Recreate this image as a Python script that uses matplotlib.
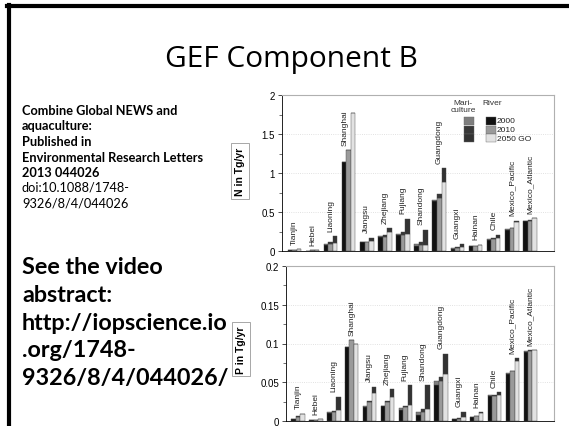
import matplotlib
matplotlib.use('Agg')
import matplotlib.pyplot as plt
import numpy as np
from matplotlib.patches import Rectangle

# 지역 및 값 (Tg/yr) - 그림에서 읽은 추정치
regions = ['Tianjin', 'Hebei', 'Liaoning', 'Shanghai', 'Jiangsu', 'Zhejiang', 'Fujiang',
           'Shandong', 'Guangdong', 'Guangxi', 'Hainan', 'Chile', 'Mexico_Pacific', 'Mexico_Atlantic']
years = ['2000', '2010', '2050 GO']

n_river_2000 = [0.01, 0.005, 0.08, 1.14, 0.11, 0.18, 0.20, 0.07, 0.64, 0.03, 0.06, 0.14, 0.27, 0.38]
n_mari_2000 = [0.0, 0.0, 0.01, 0.0, 0.01, 0.01, 0.02, 0.02, 0.02, 0.01, 0.0, 0.01, 0.01, 0.01]
n_river_2010 = [0.015, 0.008, 0.09, 1.29, 0.11, 0.18, 0.21, 0.08, 0.68, 0.04, 0.07, 0.15, 0.29, 0.39]
n_mari_2010 = [0.0, 0.0, 0.02, 0.0, 0.01, 0.02, 0.04, 0.04, 0.05, 0.01, 0.0, 0.02, 0.01, 0.01]
n_river_2050 = [0.02, 0.01, 0.10, 1.77, 0.13, 0.24, 0.22, 0.08, 0.89, 0.05, 0.08, 0.17, 0.37, 0.42]
n_mari_2050 = [0.0, 0.0, 0.09, 0.0, 0.04, 0.05, 0.19, 0.19, 0.17, 0.04, 0.0, 0.04, 0.02, 0.0]

p_river_2000 = [0.003, 0.001, 0.010, 0.096, 0.018, 0.019, 0.014, 0.008, 0.047, 0.002, 0.005, 0.032, 0.061, 0.089]
p_mari_2000 = [0.0, 0.0, 0.001, 0.0, 0.001, 0.001, 0.003, 0.004, 0.005, 0.0, 0.0, 0.001, 0.001, 0.001]
p_river_2010 = [0.005, 0.001, 0.012, 0.104, 0.024, 0.024, 0.018, 0.012, 0.052, 0.003, 0.006, 0.032, 0.064, 0.090]
p_mari_2010 = [0.001, 0.0, 0.001, 0.0, 0.002, 0.002, 0.002, 0.003, 0.005, 0.001, 0.0, 0.002, 0.001, 0.001]
p_river_2050 = [0.009, 0.002, 0.014, 0.099, 0.036, 0.031, 0.021, 0.015, 0.061, 0.005, 0.010, 0.034, 0.077, 0.091]
p_mari_2050 = [0.0, 0.0, 0.017, 0.0, 0.008, 0.010, 0.025, 0.031, 0.026, 0.007, 0.001, 0.003, 0.004, 0.0]

river_colors = ['#111111', '#9a9a9a', '#e2e2e2']
mari_colors = ['#7e7e7e', '#383838', '#333333']

plt.rcParams['font.family'] = ['Liberation Sans', 'DejaVu Sans']

fig = plt.figure(figsize=(5.69, 4.27), dpi=100)
W, H = 569, 427


def px_axes(l, t, r, b):
    return fig.add_axes([l / W, 1 - b / H, (r - l) / W, (b - t) / H])


def draw_panel(ax, rivers, maris, ymax, step, fmt):
    x = np.arange(len(regions))
    w = 0.25
    totals = []
    for k in range(3):
        r = np.array(rivers[k])
        m = np.array(maris[k])
        xs = x + (k - 1) * w
        ax.bar(xs, r, w, color=river_colors[k], edgecolor='#444444', linewidth=0.3)
        ax.bar(xs, m, w, bottom=r, color=mari_colors[k], edgecolor='#444444', linewidth=0.3)
        totals.append(r + m)
    totals = np.array(totals)
    for i, name in enumerate(regions):
        top = totals[:, i].max()
        xi = x[i]
        if top > 0.8 * ymax:
            top = totals[:2, i].max()
            xi = x[i] - 0.2
        ax.annotate(name, (xi, top), xytext=(0, 4), textcoords='offset points',
                    rotation=90, ha='center', va='bottom', fontsize=6, color='#222222')
    ax.set_xlim(-0.68, 14.33)
    ax.set_ylim(0, ymax)
    ticks = np.arange(0, ymax + step / 2, step)
    ax.set_yticks(ticks)
    ax.set_yticklabels([fmt(t) for t in ticks], fontsize=7)
    ax.set_yticks(np.arange(step / 2, ymax, step), minor=True)
    ax.set_xticks([])
    ax.grid(axis='y', linestyle=':', color='#d8d8d8', linewidth=0.6)
    ax.set_axisbelow(True)
    for s in ['top', 'right']:
        ax.spines[s].set_color('#b0b0b0')
        ax.spines[s].set_linewidth(0.8)
    ax.spines['left'].set_linewidth(0.6)
    ax.spines['bottom'].set_linewidth(0.6)
    ax.tick_params(axis='y', length=3, width=0.5, pad=2)
    ax.tick_params(axis='y', which='minor', length=2, width=0.4)


def fmt_num(t):
    s = ('%.2f' % t).rstrip('0').rstrip('.')
    return s


ax1 = px_axes(282, 96, 554, 252)
draw_panel(ax1, [n_river_2000, n_river_2010, n_river_2050],
           [n_mari_2000, n_mari_2010, n_mari_2050], 2.0, 0.5, fmt_num)

ax2 = px_axes(286, 267, 554, 422)
draw_panel(ax2, [p_river_2000, p_river_2010, p_river_2050],
           [p_mari_2000, p_mari_2010, p_mari_2050], 0.2, 0.05, fmt_num)

# 범례 (수동)
ax1.text(0.665, 0.975, 'Mari-\nculture', transform=ax1.transAxes, ha='center', va='top',
         fontsize=6, linespacing=0.95, color='#333333')
ax1.text(0.735, 0.975, 'River', transform=ax1.transAxes, ha='left', va='top',
         fontsize=6, color='#333333')
for k in range(3):
    y0 = 0.86 - k * 0.056
    ax1.add_patch(Rectangle((0.67, y0 - 0.052), 0.037, 0.052, transform=ax1.transAxes,
                            facecolor=mari_colors[k], edgecolor='#666666', linewidth=0.3))
    ax1.add_patch(Rectangle((0.75, y0 - 0.052), 0.037, 0.052, transform=ax1.transAxes,
                            facecolor=river_colors[k], edgecolor='#666666', linewidth=0.3))
    ax1.text(0.79, y0 - 0.026, years[k], transform=ax1.transAxes, ha='left', va='center',
             fontsize=6, color='#222222')

# y축 라벨 박스
box = dict(boxstyle='square,pad=0.35', facecolor='white', edgecolor='#999999', linewidth=0.6)
fig.text(240 / W, 1 - 172 / H, 'N in Tg/yr', rotation=90, ha='center', va='center',
         fontsize=7.5, fontweight='bold', bbox=box)
fig.text(241 / W, 1 - 350 / H, 'P in Tg/yr', rotation=90, ha='center', va='center',
         fontsize=7.5, fontweight='bold', bbox=box)

# 제목과 왼쪽 설명
fig.text(291 / W, 1 - 60 / H, 'GEF Component B', ha='center', va='center',
         fontsize=21.5, family=['Open Sans', 'DejaVu Sans'])

fig.text(22 / W, 1 - 105 / H,
         'Combine Global NEWS and\naquaculture:\nPublished in\nEnvironmental Research Letters\n2013 044026',
         ha='left', va='top', fontsize=9.2, fontweight='bold', linespacing=1.35,
         family=['Lato', 'DejaVu Sans'])
fig.text(22 / W, 1 - 182 / H, 'doi:10.1088/1748-\n9326/8/4/044026',
         ha='left', va='top', fontsize=9.2, linespacing=1.35, family=['Lato', 'DejaVu Sans'])

fig.text(22 / W, 1 - 257 / H,
         'See the video\nabstract:\nhttp://iopscience.io\n.org/1748-\n9326/8/4/044026/',
         ha='left', va='top', fontsize=16.8, fontweight='bold', linespacing=1.4,
         family=['Lato', 'DejaVu Sans'])

# 슬라이드 테두리
fig.add_artist(plt.Line2D([7 / W, 1], [1 - 7 / H, 1 - 7 / H], color='black', linewidth=3))
fig.add_artist(plt.Line2D([8.5 / W, 8.5 / W], [0, 1 - 5.5 / H], color='black', linewidth=3))

fig.savefig('out.png', dpi=100)
